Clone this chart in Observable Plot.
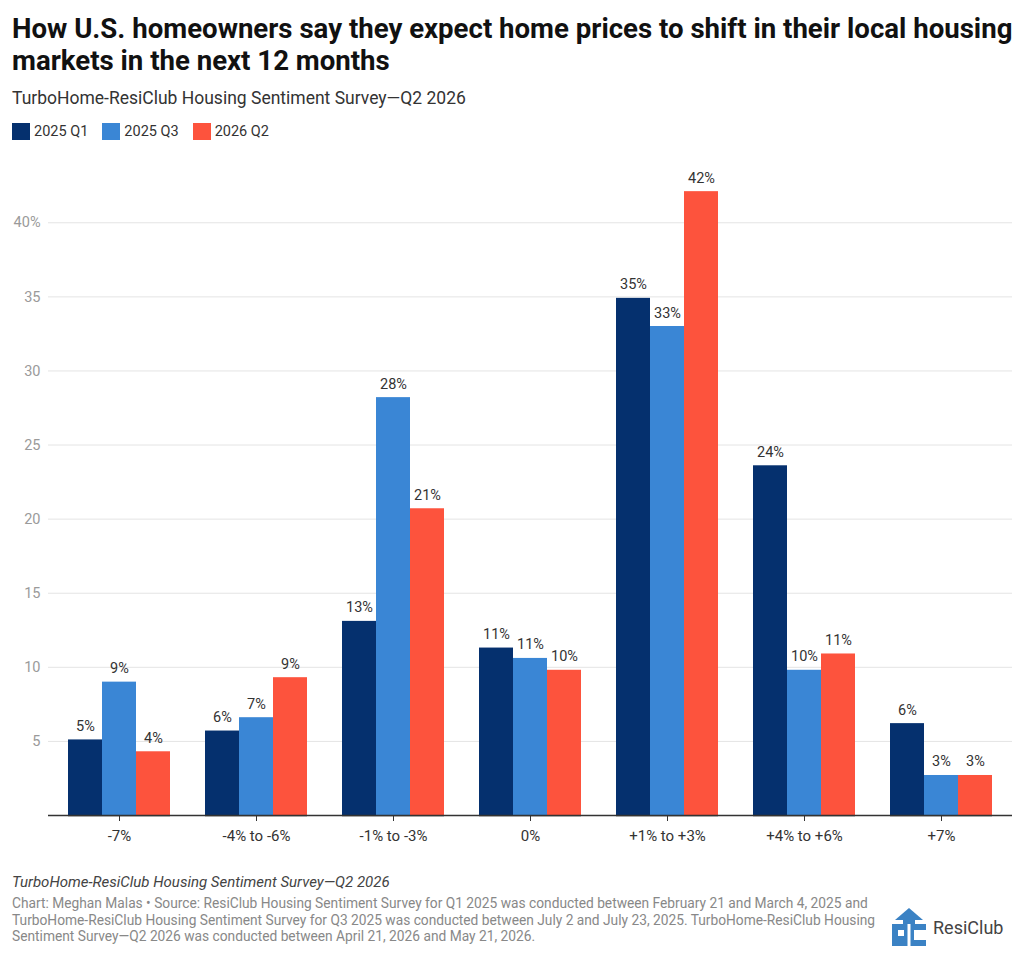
<!DOCTYPE html>
<html>
<head>
<meta charset="utf-8">
<script src="https://cdn.jsdelivr.net/npm/d3@7"></script>
<script src="https://cdn.jsdelivr.net/npm/@observablehq/plot@0.6"></script>
<style>
  html, body { margin: 0; padding: 0; background: #fff; }
  body { width: 1024px; height: 960px; font-family: Roboto, "Noto Sans", sans-serif; color: #222; position: relative; overflow: hidden; }
  #header { position: relative; height: 150px; }
  #title { position: absolute; left: 12px; top: 13px; width: 1010px; font-size: 27.6px; font-weight: 700; line-height: 32px; color: #111; }
  #subtitle { position: absolute; left: 12px; top: 88px; font-size: 17.5px; color: #333; }
  #legend { position: absolute; left: 12px; top: 123px; display: flex; font-size: 14.5px; color: #333; }
  .item { display: flex; align-items: center; margin-right: 14px; }
  .sw { width: 18px; height: 17px; margin-right: 4px; }
  #under, #chart { position: absolute; left: 0; top: 150px; }
  #footer { position: absolute; left: 12px; top: 873px; width: 880px; }
  #src { font-style: italic; font-size: 15px; color: #444; line-height: 18px; }
  #notes { font-size: 13.75px; color: #888; line-height: 16.5px; margin-top: 4px; }
  #logo { position: absolute; left: 889px; top: 906px; display: flex; align-items: center; }
  #logo span { font-size: 18px; color: #444; margin-left: 4px; }
</style>
</head>
<body>
<div id="header">
  <div id="title">How U.S. homeowners say they expect home prices to shift in their local housing<br>markets in the next 12 months</div>
  <div id="subtitle">TurboHome-ResiClub Housing Sentiment Survey—Q2 2026</div>
  <div id="legend"></div>
</div>
<div id="under"></div>
<div id="chart"></div>
<div id="footer">
  <div id="src">TurboHome-ResiClub Housing Sentiment Survey—Q2 2026</div>
  <div id="notes">Chart: Meghan Malas • Source: ResiClub Housing Sentiment Survey for Q1 2025 was conducted between February 21 and March 4, 2025 and<br>TurboHome-ResiClub Housing Sentiment Survey for Q3 2025 was conducted between July 2 and July 23, 2025. TurboHome-ResiClub Housing<br>Sentiment Survey—Q2 2026 was conducted between April 21, 2026 and May 21, 2026.</div>
</div>
<div id="logo">
  <svg width="40" height="42" viewBox="0 0 40 42">
    <polygon points="20,2 34,14 6,14" fill="#3b82c4"/>
    <rect x="14" y="12" width="12" height="8" fill="#3b82c4"/>
    <rect x="3" y="18" width="34" height="22" fill="#3b82c4"/>
    <rect x="18.5" y="18" width="3" height="22" fill="#fff"/>
    <rect x="9" y="24" width="6" height="6" fill="#fff"/>
    <rect x="25" y="24" width="12" height="10" fill="#fff"/>
  </svg>
  <span>ResiClub</span>
</div>
<script>
const categories = ["-7%", "-4% to -6%", "-1% to -3%", "0%", "+1% to +3%", "+4% to +6%", "+7%"];
const series = ["2025 Q1", "2025 Q3", "2026 Q2"];
const colors = ["#05306e", "#3a86d5", "#fd533d"];
const q1_2025 = [5.1, 5.7, 13.1, 11.3, 34.9, 23.6, 6.2];
const q3_2025 = [9.0, 6.6, 28.2, 10.6, 33.0, 9.8, 2.7];
const q2_2026 = [4.3, 9.3, 20.7, 9.8, 42.1, 10.9, 2.7];
const yTicks = [5, 10, 15, 20, 25, 30, 35, 40];

const valuesBySeries = [q1_2025, q3_2025, q2_2026];
const data = [];
categories.forEach((c, i) => {
  series.forEach((s, j) => {
    data.push({category: c, series: s, value: valuesBySeries[j][i]});
  });
});

// legend
const legend = document.getElementById("legend");
series.forEach((s, j) => {
  const it = document.createElement("div");
  it.className = "item";
  it.innerHTML = `<div class="sw" style="background:${colors[j]}"></div><div>${s}</div>`;
  legend.appendChild(it);
});

const W = 1024, H = 710, ML = 48, MR = 12, MT = 13, MB = 45;
const yDomain = [0, 44];

// underlay: continuous grid, y labels and baseline across the whole plot
const under = Plot.plot({
  width: W, height: H, marginLeft: ML, marginRight: MR, marginTop: MT, marginBottom: MB,
  style: {fontFamily: "Roboto, sans-serif", fontSize: "14.5px", background: "#fff"},
  x: {axis: null},
  y: {domain: yDomain, axis: null},
  marks: [
    Plot.ruleY(yTicks, {stroke: "#e4e4e4", strokeWidth: 1}),
    Plot.text(yTicks, {y: d => d, frameAnchor: "left", dx: -8, textAnchor: "end", fill: "#9a9a9a", fontSize: 14.5, text: d => d === 40 ? "40%" : String(d)}),
    Plot.ruleY([0], {stroke: "#333", strokeWidth: 1.5})
  ]
});
document.getElementById("under").appendChild(under);

const chart = Plot.plot({
  width: W, height: H, marginLeft: ML, marginRight: MR, marginTop: MT, marginBottom: MB,
  style: {fontFamily: "Roboto, sans-serif", fontSize: "15px", color: "#333", background: "transparent"},
  fx: {domain: categories, paddingInner: 0.255, paddingOuter: 0.1275, label: null, axis: "bottom", tickSize: 6, tickPadding: 9},
  x: {domain: series, axis: null, padding: 0},
  y: {domain: yDomain, axis: null},
  color: {domain: series, range: colors},
  marks: [
    Plot.barY(data, {fx: "category", x: "series", y: "value", fill: "series"}),
    Plot.text(data, {fx: "category", x: "series", y: "value", text: d => Math.round(d.value) + "%", lineAnchor: "bottom", dy: -9, fill: "#333", fontSize: 14.5}),
    Plot.ruleY([0], {stroke: "#333", strokeWidth: 1.5})
  ]
});
document.getElementById("chart").appendChild(chart);
</script>
</body>
</html>
